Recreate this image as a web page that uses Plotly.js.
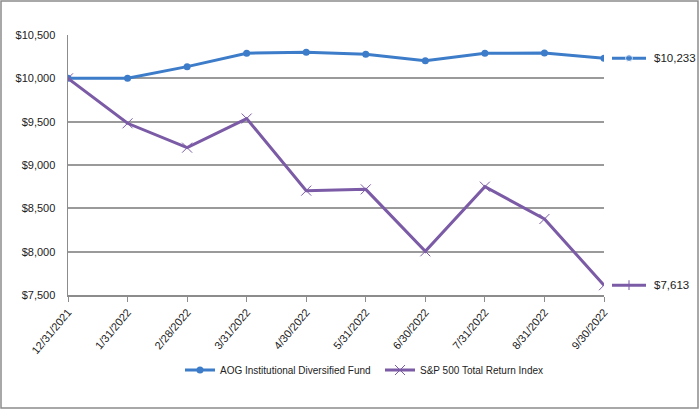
<!DOCTYPE html>
<html><head><meta charset="utf-8">
<script src="https://cdn.plot.ly/plotly-3.0.1.min.js"></script>
<style>html,body{margin:0;padding:0;background:#fff}#c{width:700px;height:410px}</style>
</head><body><div id="c"></div>
<script>
const dates = ["12/31/2021","1/31/2022","2/28/2022","3/31/2022","4/30/2022","5/31/2022","6/30/2022","7/31/2022","8/31/2022","9/30/2022"];
const fundName = "AOG Institutional Diversified Fund";
const fundValues = [10000,10000,10135,10290,10300,10277,10204,10288,10292,10233];
const spName = "S&P 500 Total Return Index";
const spValues = [10000,9481,9200,9536,8704,8719,8004,8750,8377,7613];
const yTicks = [7500,8000,8500,9000,9500,10000,10500];

const blue = "#3d7cc9", purple = "#7b5ba6";
const sans = "Liberation Sans, Arial, sans-serif";
const fmt = v => "$" + v.toLocaleString("en-US");
const lastF = fundValues[fundValues.length-1], lastS = spValues[spValues.length-1];

const L = 68, T = 35, W = 700, H = 410, R = 2, B = 115;
const pw = W - L - R;
const ph = H - T - B;
const px = v => (v - L) / pw;
const py = v => (H - B - v) / ph;

const traces = [
  {x: dates, y: fundValues, name: fundName, type: "scatter", mode: "lines+markers",
   line: {color: blue, width: 3}, marker: {symbol: "circle", size: 7, color: blue}},
  {x: dates, y: spValues, name: spName, type: "scatter", mode: "lines+markers",
   line: {color: purple, width: 3}, marker: {symbol: "x-thin", size: 10, color: purple, line: {color: purple, width: 1}}},
  {x: [0,1,2], y: [lastF,lastF,lastF], xaxis: "x2", yaxis: "y2", mode: "lines+markers", showlegend: false, hoverinfo: "skip",
   line: {color: blue, width: 3}, marker: {symbol: "circle", size: [0,7,0], color: blue}},
  {x: [0,1,2], y: [lastS,lastS,lastS], xaxis: "x2", yaxis: "y2", mode: "lines+markers", showlegend: false, hoverinfo: "skip",
   line: {color: purple, width: 3}, marker: {symbol: "line-ns", size: [0,7,0], color: purple, line: {color: purple, width: 1.5}}}
];

const layout = {
  width: W, height: H,
  margin: {l: L, r: R, t: T, b: B},
  paper_bgcolor: "#fff", plot_bgcolor: "rgba(0,0,0,0)",
  font: {family: sans, size: 11, color: "#222"},
  xaxis: {type: "category", tickangle: -50, showgrid: false, showline: true, linecolor: "#8c8c8c", linewidth: 1.5,
          ticks: "outside", ticklen: 5, tickcolor: "#8c8c8c", tickfont: {family: sans, size: 11, color: "#222"},
          range: [0, dates.length-1], zeroline: false, domain: [0, px(604)], anchor: "y"},
  xaxis2: {domain: [px(612), px(646)], range: [0,2], visible: false, anchor: "y2", showgrid: false, zeroline: false},
  yaxis: {range: [7500,10500], tickvals: yTicks, ticktext: yTicks.map(fmt), showgrid: true, gridcolor: "#9a9a9a", gridwidth: 2,
          showline: true, linecolor: "#8c8c8c", linewidth: 1.5, ticks: "", ticklabelstandoff: 9, zeroline: false,
          tickfont: {family: sans, size: 11, color: "#222"}, anchor: "x"},
  yaxis2: {range: [7500,10500], anchor: "x2", visible: false, showgrid: false, zeroline: false},
  legend: {orientation: "h", x: px(180), xanchor: "left", y: py(370), yanchor: "middle",
           font: {family: sans, size: 10, color: "#222"}, entrywidth: 155, itemwidth: 30, bgcolor: "rgba(0,0,0,0)"},
  annotations: [
    {xref: "paper", yref: "y", x: px(652), y: lastF, text: fmt(lastF), showarrow: false, xanchor: "left",
     font: {family: sans, size: 11.5, color: "#222"}},
    {xref: "paper", yref: "y", x: px(652), y: lastS, text: fmt(lastS), showarrow: false, xanchor: "left",
     font: {family: sans, size: 11.5, color: "#222"}}
  ],
  shapes: [
    {type: "rect", xref: "paper", yref: "paper", x0: px(1), x1: px(698), y0: py(408), y1: py(1),
     line: {color: "#8c8c8c", width: 1.5}, fillcolor: "rgba(0,0,0,0)", layer: "below"}
  ],
  showlegend: true
};
Plotly.newPlot("c", traces, layout, {displayModeBar: false, staticPlot: true});
</script></body></html>
